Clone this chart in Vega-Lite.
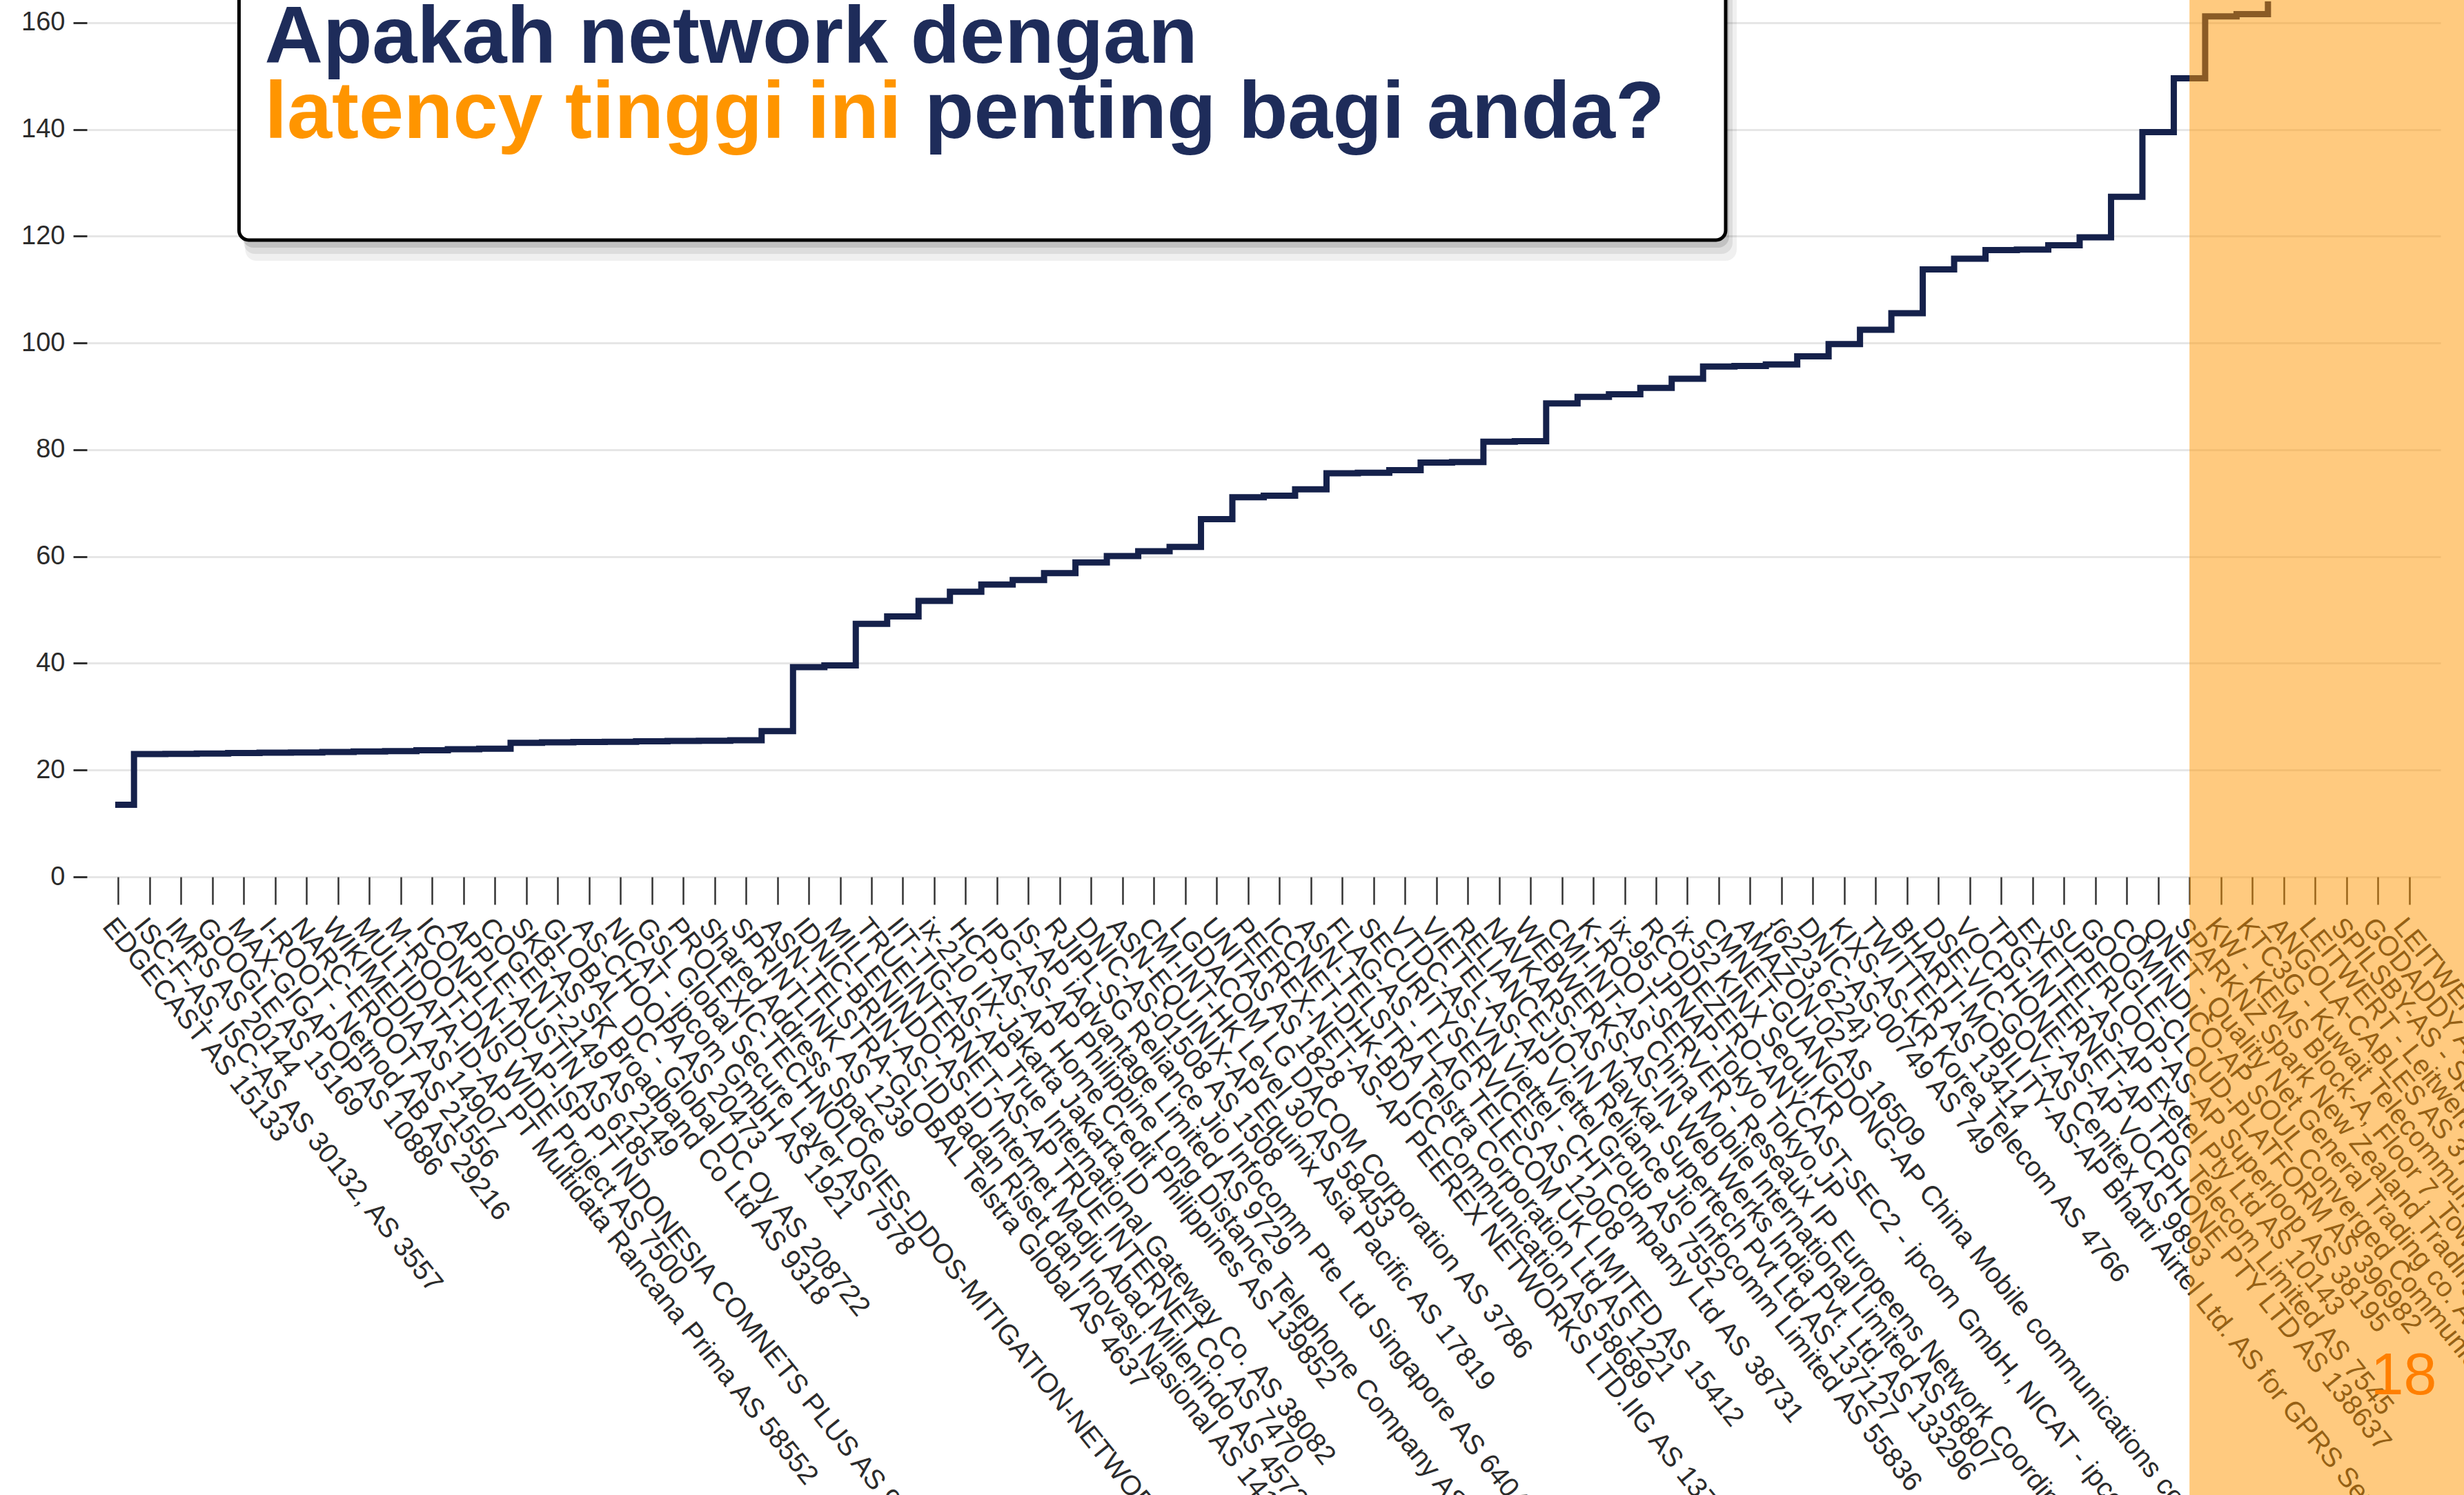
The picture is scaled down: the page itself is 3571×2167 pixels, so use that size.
{
  "$schema": "https://vega.github.io/schema/vega-lite/v6.json",
  "width": 3411,
  "height": 1269,
  "autosize": {"type": "none"},
  "padding": {"left": 126, "top": 2, "right": 34, "bottom": 896},
  "background": "white",
  "config": {"view": {"stroke": null}},
  "datasets": {
    "latency": [
      {"name": "EDGECAST AS 15133", "ms": 13.5},
      {"name": "ISC-F-AS, ISC-AS AS 30132, AS 3557", "ms": 23.0},
      {"name": "IMRS AS 20144", "ms": 23.05},
      {"name": "GOOGLE AS 15169", "ms": 23.1},
      {"name": "MAX-GIGAPOP AS 10886", "ms": 23.2},
      {"name": "I-ROOT - Netnod AB AS 29216", "ms": 23.25},
      {"name": "NARC-EROOT AS 21556", "ms": 23.3},
      {"name": "WIKIMEDIA AS 14907", "ms": 23.4},
      {"name": "MULTIDATA-ID-AP PT Multidata Rancana Prima AS 58552", "ms": 23.5},
      {"name": "M-ROOT-DNS WIDE Project AS 7500", "ms": 23.55},
      {"name": "ICONPLN-ID-AP-ISP PT INDONESIA COMNETS PLUS AS 9341", "ms": 23.7},
      {"name": "APPLE-AUSTIN AS 6185", "ms": 23.9},
      {"name": "COGENT-2149 AS 2149", "ms": 24.0},
      {"name": "SKB-AS SK Broadband Co Ltd AS 9318", "ms": 25.1},
      {"name": "GLOBAL_DC - Global DC Oy AS 208722", "ms": 25.2},
      {"name": "AS-CHOOPA AS 20473", "ms": 25.25},
      {"name": "NICAT - ipcom GmbH AS 1921", "ms": 25.3},
      {"name": "GSL Global Secure Layer AS 7578", "ms": 25.4},
      {"name": "PROLEXIC-TECHNOLOGIES-DDOS-MITIGATION-NETWORK AS 32787", "ms": 25.45},
      {"name": "Shared Address Space", "ms": 25.5},
      {"name": "SPRINTLINK AS 1239", "ms": 25.6},
      {"name": "ASN-TELSTRA-GLOBAL Telstra Global AS 4637", "ms": 27.3},
      {"name": "IDNIC-BRIN-AS-ID Badan Riset dan Inovasi Nasional AS 141058", "ms": 39.3},
      {"name": "MILLENINDO-AS-ID Internet Madju Abad Millenindo AS 45727", "ms": 39.6},
      {"name": "TRUEINTERNET-AS-AP TRUE INTERNET Co. AS 7470", "ms": 47.4},
      {"name": "IIT-TIG-AS-AP True International Gateway Co. AS 38082", "ms": 48.8},
      {"name": "ix-210 IIX-Jakarta Jakarta,ID", "ms": 51.7},
      {"name": "HCP-AS-AP Home Credit Philippines AS 139852", "ms": 53.4},
      {"name": "IPG-AS-AP Philippine Long Distance Telephone Company AS 9299", "ms": 54.75},
      {"name": "IS-AP iAdvantage Limited AS 9729", "ms": 55.6},
      {"name": "RJIPL-SG Reliance Jio Infocomm Pte Ltd Singapore AS 64049", "ms": 56.9},
      {"name": "DNIC-AS-01508 AS 1508", "ms": 58.9},
      {"name": "ASN-EQUINIX-AP Equinix Asia Pacific AS 17819", "ms": 60.1},
      {"name": "CMI-INT-HK Level 30 AS 58453", "ms": 61.0},
      {"name": "LGDACOM LG DACOM Corporation AS 3786", "ms": 61.8},
      {"name": "UNITAS AS 1828", "ms": 67.0},
      {"name": "PEEREX-NET-AS-AP PEEREX NETWORKS LTD.IIG AS 137491", "ms": 71.1},
      {"name": "ICCNET-DHK-BD ICC Communication AS 58689", "ms": 71.4},
      {"name": "ASN-TELSTRA Telstra Corporation Ltd AS 1221", "ms": 72.6},
      {"name": "FLAG-AS - FLAG TELECOM UK LIMITED AS 15412", "ms": 75.6},
      {"name": "SECURITYSERVICES AS 12008", "ms": 75.7},
      {"name": "VTDC-AS-VN Viettel - CHT Compamy Ltd AS 38731", "ms": 76.2},
      {"name": "VIETEL-AS-AP Viettel Group AS 7552", "ms": 77.6},
      {"name": "RELIANCEJIO-IN Reliance Jio Infocomm Limited AS 55836", "ms": 77.7},
      {"name": "NAVKARS-AS Navkar Supertech Pvt Ltd AS 137127", "ms": 81.5},
      {"name": "WEBWERKS-AS-IN Web Werks India Pvt. Ltd. AS 133296", "ms": 81.6},
      {"name": "CMI-INT-AS China Mobile International Limited AS 58807", "ms": 88.7},
      {"name": "K-ROOT-SERVER - Reseaux IP Europeens Network Coordination Centre AS 25152", "ms": 89.9},
      {"name": "ix-95 JPNAP-Tokyo Tokyo,JP", "ms": 90.4},
      {"name": "RCODEZERO-ANYCAST-SEC2 - ipcom GmbH, NICAT - ipcom GmbH AS 42", "ms": 91.6},
      {"name": "ix-52 KINX Seoul,KR", "ms": 93.3},
      {"name": "CMNET-GUANGDONG-AP China Mobile communications corporation AS 9808", "ms": 95.6},
      {"name": "AMAZON-02 AS 16509", "ms": 95.7},
      {"name": "{6223,6224}", "ms": 96.0},
      {"name": "DNIC-AS-00749 AS 749", "ms": 97.5},
      {"name": "KIXS-AS-KR Korea Telecom AS 4766", "ms": 99.8},
      {"name": "TWITTER AS 13414", "ms": 102.5},
      {"name": "BHARTI-MOBILITY-AS-AP Bharti Airtel Ltd. AS for GPRS Service AS 24560", "ms": 105.6},
      {"name": "DSE-VIC-GOV-AS Cenitex AS 9893", "ms": 113.8},
      {"name": "VOCPHONE-AS-AP VOCPHONE PTY LTD AS 138637", "ms": 115.8},
      {"name": "TPG-INTERNET-AP TPG Telecom Limited AS 7545", "ms": 117.4},
      {"name": "EXETEL-AS-AP Exetel Pty Ltd AS 10143", "ms": 117.5},
      {"name": "SUPERLOOP-AS-AP Superloop AS 38195", "ms": 118.3},
      {"name": "GOOGLE-CLOUD-PLATFORM AS 396982", "ms": 119.8},
      {"name": "COMINDICO-AP SOUL Converged Communications Australia AS 9443", "ms": 127.4},
      {"name": "QNET - Quality Net General Trading co. AS 9155", "ms": 139.5},
      {"name": "SPARKNZ Spark New Zealand Trading Ltd. AS 4771", "ms": 149.6},
      {"name": "KW - KEMS Block-A, Floor 7, Tower AS 21050", "ms": 161.2},
      {"name": "KTC3G - Kuwait Telecommunication AS 42961", "ms": 161.6},
      {"name": "ANGOLA-CABLES AS 37468", "ms": 170},
      {"name": "LEITWERT - Leitwert GmbH AS 29691", "ms": 178},
      {"name": "SPILSBY-AS - Spilsby AS 61955", "ms": 186},
      {"name": "GODADDY AS 26496", "ms": 195},
      {"name": "LEITWERT-AS Leitwert GmbH AS 201011", "ms": 210}
    ]
  },
  "layer": [
    {
      "data": {"name": "latency"},
      "mark": {"type": "line", "interpolate": "step", "color": "#15214b", "strokeWidth": 9, "strokeJoin": "miter", "strokeCap": "square", "clip": true},
      "encoding": {
        "x": {
          "field": "name", "type": "nominal", "sort": null,
          "scale": {"type": "point", "padding": 1, "domain": [
            "EDGECAST AS 15133", "ISC-F-AS, ISC-AS AS 30132, AS 3557", "IMRS AS 20144", "GOOGLE AS 15169", "MAX-GIGAPOP AS 10886", "I-ROOT - Netnod AB AS 29216", "NARC-EROOT AS 21556", "WIKIMEDIA AS 14907", "MULTIDATA-ID-AP PT Multidata Rancana Prima AS 58552", "M-ROOT-DNS WIDE Project AS 7500", "ICONPLN-ID-AP-ISP PT INDONESIA COMNETS PLUS AS 9341", "APPLE-AUSTIN AS 6185", "COGENT-2149 AS 2149", "SKB-AS SK Broadband Co Ltd AS 9318", "GLOBAL_DC - Global DC Oy AS 208722", "AS-CHOOPA AS 20473", "NICAT - ipcom GmbH AS 1921", "GSL Global Secure Layer AS 7578", "PROLEXIC-TECHNOLOGIES-DDOS-MITIGATION-NETWORK AS 32787", "Shared Address Space", "SPRINTLINK AS 1239", "ASN-TELSTRA-GLOBAL Telstra Global AS 4637", "IDNIC-BRIN-AS-ID Badan Riset dan Inovasi Nasional AS 141058", "MILLENINDO-AS-ID Internet Madju Abad Millenindo AS 45727", "TRUEINTERNET-AS-AP TRUE INTERNET Co. AS 7470", "IIT-TIG-AS-AP True International Gateway Co. AS 38082", "ix-210 IIX-Jakarta Jakarta,ID", "HCP-AS-AP Home Credit Philippines AS 139852", "IPG-AS-AP Philippine Long Distance Telephone Company AS 9299", "IS-AP iAdvantage Limited AS 9729", "RJIPL-SG Reliance Jio Infocomm Pte Ltd Singapore AS 64049", "DNIC-AS-01508 AS 1508", "ASN-EQUINIX-AP Equinix Asia Pacific AS 17819", "CMI-INT-HK Level 30 AS 58453", "LGDACOM LG DACOM Corporation AS 3786", "UNITAS AS 1828", "PEEREX-NET-AS-AP PEEREX NETWORKS LTD.IIG AS 137491", "ICCNET-DHK-BD ICC Communication AS 58689", "ASN-TELSTRA Telstra Corporation Ltd AS 1221", "FLAG-AS - FLAG TELECOM UK LIMITED AS 15412", "SECURITYSERVICES AS 12008", "VTDC-AS-VN Viettel - CHT Compamy Ltd AS 38731", "VIETEL-AS-AP Viettel Group AS 7552", "RELIANCEJIO-IN Reliance Jio Infocomm Limited AS 55836", "NAVKARS-AS Navkar Supertech Pvt Ltd AS 137127", "WEBWERKS-AS-IN Web Werks India Pvt. Ltd. AS 133296", "CMI-INT-AS China Mobile International Limited AS 58807", "K-ROOT-SERVER - Reseaux IP Europeens Network Coordination Centre AS 25152", "ix-95 JPNAP-Tokyo Tokyo,JP", "RCODEZERO-ANYCAST-SEC2 - ipcom GmbH, NICAT - ipcom GmbH AS 42", "ix-52 KINX Seoul,KR", "CMNET-GUANGDONG-AP China Mobile communications corporation AS 9808", "AMAZON-02 AS 16509", "{6223,6224}", "DNIC-AS-00749 AS 749", "KIXS-AS-KR Korea Telecom AS 4766", "TWITTER AS 13414", "BHARTI-MOBILITY-AS-AP Bharti Airtel Ltd. AS for GPRS Service AS 24560", "DSE-VIC-GOV-AS Cenitex AS 9893", "VOCPHONE-AS-AP VOCPHONE PTY LTD AS 138637", "TPG-INTERNET-AP TPG Telecom Limited AS 7545", "EXETEL-AS-AP Exetel Pty Ltd AS 10143", "SUPERLOOP-AS-AP Superloop AS 38195", "GOOGLE-CLOUD-PLATFORM AS 396982", "COMINDICO-AP SOUL Converged Communications Australia AS 9443", "QNET - Quality Net General Trading co. AS 9155", "SPARKNZ Spark New Zealand Trading Ltd. AS 4771", "KW - KEMS Block-A, Floor 7, Tower AS 21050", "KTC3G - Kuwait Telecommunication AS 42961", "ANGOLA-CABLES AS 37468", "LEITWERT - Leitwert GmbH AS 29691", "SPILSBY-AS - Spilsby AS 61955", "GODADDY AS 26496", "LEITWERT-AS Leitwert GmbH AS 201011"
          ]},
          "axis": {
            "title": null, "domain": false, "grid": false,
            "labelAngle": 51, "labelAlign": "left", "labelBaseline": "top",
            "labelFont": "Liberation Sans", "labelFontSize": 40, "labelColor": "#2b2b2b",
            "labelLimit": 4000, "labelOverlap": false, "labelFlush": false, "labelPadding": 12,
            "tickSize": 40, "tickWidth": 2.5, "tickColor": "#333333"
          }
        },
        "y": {
          "field": "ms", "type": "quantitative",
          "scale": {"domain": [0, 164], "nice": false, "zero": true},
          "axis": {
            "title": null, "domain": false, "grid": true, "gridColor": "#e6e6e6", "gridWidth": 3,
            "values": [0, 20, 40, 60, 80, 100, 120, 140, 160],
            "labelFont": "Liberation Sans", "labelFontSize": 38, "labelColor": "#2b2b2b", "labelPadding": 12,
            "tickSize": 20, "tickWidth": 3, "tickColor": "#333333"
          }
        }
      }
    },
    {
      "data": {"values": [{}]},
      "mark": {"type": "rect", "fill": "#000000", "opacity": 0.06, "cornerRadius": 16, "xOffset": 2, "x2Offset": 26, "yOffset": 0, "y2Offset": 30},
      "encoding": {
        "x": {"datum": "MAX-GIGAPOP AS 10886", "type": "nominal"},
        "x2": {"datum": "CMNET-GUANGDONG-AP China Mobile communications corporation AS 9808"},
        "y": {"datum": 200, "type": "quantitative"},
        "y2": {"datum": 119.3}
      }
    },
    {
      "data": {"values": [{}]},
      "mark": {"type": "rect", "fill": "#000000", "opacity": 0.08, "cornerRadius": 16, "xOffset": 0, "x2Offset": 20, "yOffset": 0, "y2Offset": 20},
      "encoding": {
        "x": {"datum": "MAX-GIGAPOP AS 10886", "type": "nominal"},
        "x2": {"datum": "CMNET-GUANGDONG-AP China Mobile communications corporation AS 9808"},
        "y": {"datum": 200, "type": "quantitative"},
        "y2": {"datum": 119.3}
      }
    },
    {
      "data": {"values": [{}]},
      "mark": {"type": "rect", "fill": "#000000", "opacity": 0.12, "cornerRadius": 16, "xOffset": -2, "x2Offset": 15, "yOffset": 0, "y2Offset": 11},
      "encoding": {
        "x": {"datum": "MAX-GIGAPOP AS 10886", "type": "nominal"},
        "x2": {"datum": "CMNET-GUANGDONG-AP China Mobile communications corporation AS 9808"},
        "y": {"datum": 200, "type": "quantitative"},
        "y2": {"datum": 119.3}
      }
    },
    {
      "data": {"values": [{}]},
      "mark": {"type": "rect", "fill": "#ffffff", "stroke": "#000000", "strokeWidth": 5, "cornerRadius": 14, "xOffset": -7, "x2Offset": 10},
      "encoding": {
        "x": {"datum": "MAX-GIGAPOP AS 10886", "type": "nominal"},
        "x2": {"datum": "CMNET-GUANGDONG-AP China Mobile communications corporation AS 9808"},
        "y": {"datum": 200, "type": "quantitative"},
        "y2": {"datum": 119.3}
      }
    },
    {
      "data": {"values": [{}]},
      "mark": {"type": "text", "text": "Apakah network dengan", "font": "Liberation Sans", "fontWeight": "bold", "fontSize": 117, "color": "#1e2c5a", "align": "left", "baseline": "alphabetic", "dx": 30},
      "encoding": {
        "x": {"datum": "MAX-GIGAPOP AS 10886", "type": "nominal"},
        "y": {"datum": 152.5, "type": "quantitative"}
      }
    },
    {
      "data": {"values": [{}]},
      "mark": {"type": "text", "text": "latency tinggi ini", "font": "Liberation Sans", "fontWeight": "bold", "fontSize": 117, "color": "#ff9500", "align": "left", "baseline": "alphabetic", "dx": 30},
      "encoding": {
        "x": {"datum": "MAX-GIGAPOP AS 10886", "type": "nominal"},
        "y": {"datum": 138.4, "type": "quantitative"}
      }
    },
    {
      "data": {"values": [{}]},
      "mark": {"type": "text", "text": "penting bagi anda?", "font": "Liberation Sans", "fontWeight": "bold", "fontSize": 117, "color": "#1e2c5a", "align": "left", "baseline": "alphabetic", "dx": -14},
      "encoding": {
        "x": {"datum": "ix-210 IIX-Jakarta Jakarta,ID", "type": "nominal"},
        "y": {"datum": 138.4, "type": "quantitative"}
      }
    },
    {
      "data": {"values": [{}]},
      "mark": {"type": "rect", "fill": "#ff9500", "opacity": 0.5, "x2Offset": 200},
      "encoding": {
        "x": {"datum": "SPARKNZ Spark New Zealand Trading Ltd. AS 4771", "type": "nominal"},
        "x2": {"datum": "LEITWERT-AS Leitwert GmbH AS 201011"},
        "y": {"datum": 200, "type": "quantitative"},
        "y2": {"datum": -150}
      }
    },
    {
      "data": {"values": [{}]},
      "mark": {"type": "text", "text": "18", "font": "Liberation Sans", "fontSize": 86, "color": "#ff7f00", "align": "center", "baseline": "middle", "dx": -8},
      "encoding": {
        "x": {"datum": "LEITWERT-AS Leitwert GmbH AS 201011", "type": "nominal"},
        "y": {"datum": -93.6, "type": "quantitative"}
      }
    }
  ]
}
